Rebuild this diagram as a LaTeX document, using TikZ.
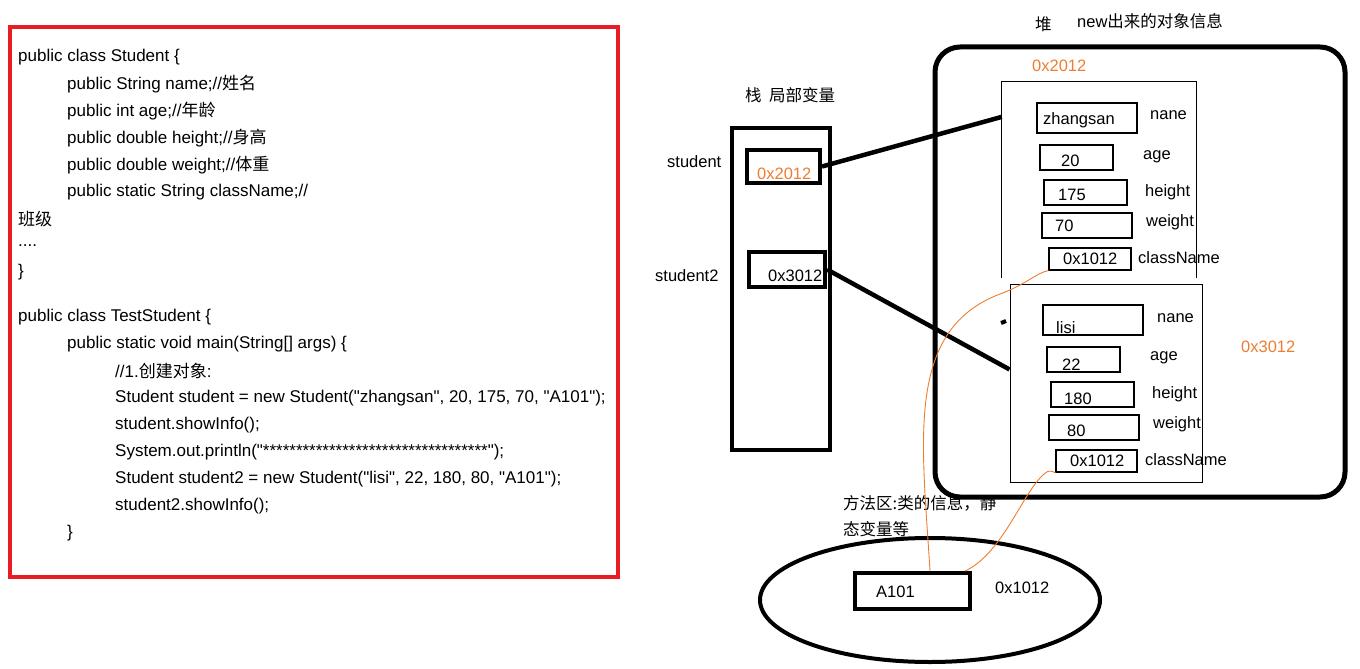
\documentclass[tikz,border=0pt]{standalone}
\usepackage{fontspec}
\setmainfont{Liberation Sans}[Ligatures=TeXOff]
\newfontfamily\cjk{Noto Sans CJK SC}
\usetikzlibrary{shapes.geometric}

\definecolor{framered}{RGB}{232,28,36}
\definecolor{addr}{RGB}{237,125,49}

\begin{document}
\begin{tikzpicture}[
  x=1pt, y=-1pt,
  font=\fontsize{16.5}{20}\selectfont,
  txt/.style={anchor=west, inner sep=0pt},
  code/.style={anchor=west, inner sep=0pt, font=\fontsize{17}{20}\selectfont},
  thickbox/.style={draw, line width=4pt, inner sep=0pt},
  fieldbox/.style={draw, line width=1.2pt, inner sep=0pt},
  objbox/.style={inner sep=0pt},
  link/.style={line width=4.5pt},
  ref/.style={draw=addr, line width=0.9pt}
]
  \useasboundingbox (0,0) rectangle (1360,669);

  % code listing
  \node[draw=framered, line width=4pt, minimum width=608pt, minimum height=550pt] (codeframe) at (314,302) {};
  \node[code] (c1) at (18,57) {public class Student \{};
  \node[code] (c2) at (67,84) {public String name;//{\cjk 姓名}};
  \node[code] (c3) at (67,111) {public int age;//{\cjk 年龄}};
  \node[code] (c4) at (67,138) {public double height;//{\cjk 身高}};
  \node[code] (c5) at (67,165) {public double weight;//{\cjk 体重}};
  \node[code] (c6) at (67,192) {public static String className;//};
  \node[code] (c7) at (18,219) {\cjk 班级};
  \node[code] (c8) at (18,246) {....};
  \node[code] (c9) at (18,272) {\}};
  \node[code] (c10) at (18,317) {public class TestStudent \{};
  \node[code] (c11) at (67,344) {public static void main(String[] args) \{};
  \node[code] (c12) at (115,371) {//1.{\cjk 创建对象}:};
  \node[code] (c13) at (115,398) {Student student = new Student("zhangsan", 20, 175, 70, "A101");};
  \node[code] (c14) at (115,425) {student.showInfo();};
  \node[code] (c15) at (115,452) {System.out.println("**********************************");};
  \node[code] (c16) at (115,479) {Student student2 = new Student("lisi", 22, 180, 80, "A101");};
  \node[code] (c17) at (115,506) {student2.showInfo();};
  \node[code] (c18) at (67,533) {\}};

  % stack
  \node[txt] (stacklabel) at (745,95) {\cjk 栈\ \ 局部变量};
  \node[thickbox, line width=4.5pt, minimum width=98pt, minimum height=322pt] (stack) at (781,289) {};
  \node[thickbox, minimum width=73pt, minimum height=33pt] (sbox1) at (783.5,166.5) {};
  \node[thickbox, minimum width=76pt, minimum height=35pt] (sbox2) at (787,269.5) {};
  \node[txt, text=addr] (sval1) at (757,174) {0x2012};
  \node[txt] (sval2) at (768,276) {0x3012};
  \node[txt] (svar1) at (667,162) {student};
  \node[txt] (svar2) at (655,276) {student2};

  % heap
  \node[txt] (heaplabel) at (1035,24) {\cjk 堆};
  \node[txt] (heapnote) at (1077,21) {new{\cjk 出来的对象信息}};
  \node[draw, line width=5pt, rounded corners=25pt, minimum width=410pt, minimum height=450pt] (heap) at (1140,272) {};
  \node[txt, text=addr] (addr1) at (1032,66) {0x2012};
  \node[txt, text=addr] (addr2) at (1241,347) {0x3012};

  % first object
  \node[objbox, minimum width=194pt, minimum height=196pt] (obj1) at (1099,180) {};
  \draw[line width=1pt] (obj1.south west) |- (obj1.north east) -- (obj1.south east);
  \node[fieldbox, minimum width=100pt, minimum height=30pt] (f1name) at (1087,118) {};
  \node[fieldbox, minimum width=73pt, minimum height=25pt] (f1age) at (1076.5,157.5) {};
  \node[fieldbox, minimum width=83pt, minimum height=25pt] (f1height) at (1085.5,192.5) {};
  \node[fieldbox, minimum width=90pt, minimum height=25pt] (f1weight) at (1087,225.5) {};
  \node[fieldbox, minimum width=82pt, minimum height=22pt] (f1class) at (1090,259) {};
  \node[txt] (v1name) at (1043,120) {zhangsan};
  \node[txt] (v1age) at (1061,161) {20};
  \node[txt] (v1height) at (1058,195) {175};
  \node[txt] (v1weight) at (1055,226) {70};
  \node[txt] (v1class) at (1063,259) {0x1012};
  \node[txt] (k1name) at (1150,115) {nane};
  \node[txt] (k1age) at (1143,157) {age};
  \node[txt] (k1height) at (1145,192) {height};
  \node[txt] (k1weight) at (1146,222) {weight};
  \node[txt] (k1class) at (1138,258) {className};

  % second object
  \node[draw, line width=1pt, minimum width=192pt, minimum height=198pt] (obj2) at (1106,383) {};
  \node[fieldbox, minimum width=100pt, minimum height=30pt] (f2name) at (1093,320) {};
  \node[fieldbox, minimum width=73pt, minimum height=25pt] (f2age) at (1083.5,359.5) {};
  \node[fieldbox, minimum width=83pt, minimum height=25pt] (f2height) at (1092.5,394.5) {};
  \node[fieldbox, minimum width=90pt, minimum height=25pt] (f2weight) at (1094,427.5) {};
  \node[fieldbox, minimum width=81pt, minimum height=22pt] (f2class) at (1096.5,461) {};
  \node[txt] (v2name) at (1056,328) {lisi};
  \node[txt] (v2age) at (1062,365) {22};
  \node[txt] (v2height) at (1064,399) {180};
  \node[txt] (v2weight) at (1067,431) {80};
  \node[txt] (v2class) at (1070,461) {0x1012};
  \node[txt] (k2name) at (1157,318) {nane};
  \node[txt] (k2age) at (1150,358) {age};
  \node[txt] (k2height) at (1152,394) {height};
  \node[txt] (k2weight) at (1153,424) {weight};
  \node[txt] (k2class) at (1145,460) {className};
  \draw[line width=4pt] (1001,323) -- (1006,321);

  % method area
  \node[txt] (mnote1) at (843,503) {\cjk 方法区:类的信息，静};
  \node[txt] (mnote2) at (843,529) {\cjk 态变量等};
  \node[draw, ellipse, line width=4pt, minimum width=340pt, minimum height=124pt] (methodarea) at (930,600) {};
  \node[thickbox, minimum width=115pt, minimum height=36pt] (a101) at (912.5,591) {};
  \node[txt] (a101text) at (876,592) {A101};
  \node[txt] (a101addr) at (995,588) {0x1012};

  % references
  \draw[link] (sbox1.east) -- (obj1.147);
  \draw[link] (sbox2.east) -- (obj2.172);
  \draw[ref] ([xshift=17.5pt]a101.north) .. controls (922,440) and (905,330) .. (1000,294)
    .. controls (1025,285) and (1038,272) .. (f1class.south west);
  \draw[ref] ([xshift=-7pt]a101.north east) .. controls (1000,555) and (1020,500) .. (1040,478)
    .. controls (1048,470) .. (f2class.south west);
\end{tikzpicture}
\end{document}
